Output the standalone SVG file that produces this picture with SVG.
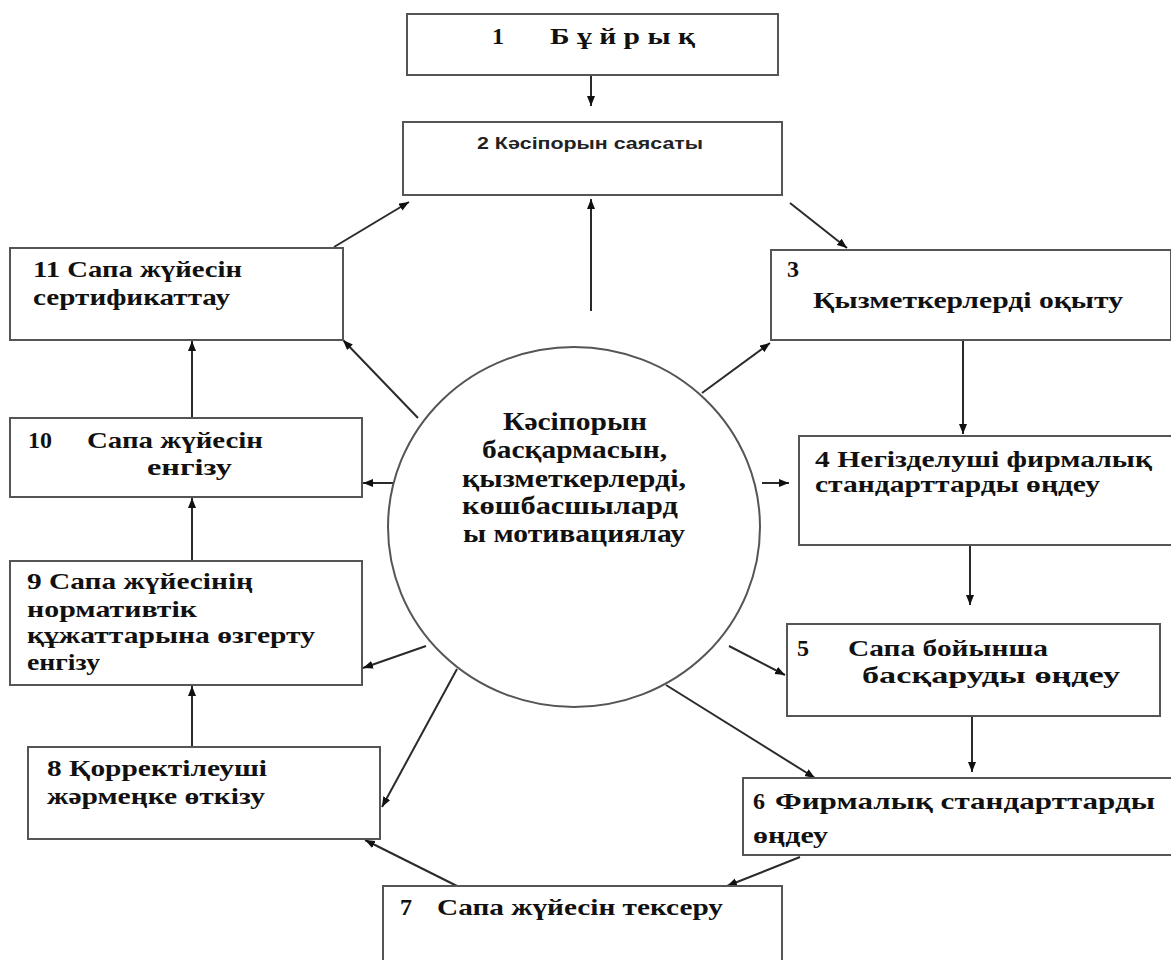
<svg xmlns="http://www.w3.org/2000/svg" width="1171" height="960" viewBox="0 0 1171 960">
<defs>
<style>
.box{fill:#fff;stroke:#555;stroke-width:2}
.t{font-family:"Liberation Serif","Times New Roman",serif;font-weight:bold;font-size:24px;fill:#111}
.s{font-family:"Liberation Sans",Arial,sans-serif;font-weight:bold;font-size:16px;fill:#222}
.c{font-family:"Liberation Serif","Times New Roman",serif;font-weight:bold;font-size:25px;fill:#111}
.ln{stroke:#2a2a2a;stroke-width:2;fill:none;marker-end:url(#ah)}
</style>
<marker id="ah" markerUnits="userSpaceOnUse" markerWidth="12" markerHeight="10" refX="10" refY="4" orient="auto">
<path d="M0,0 L10,4 L0,8 z" fill="#111"/>
</marker>
</defs>
<rect width="1171" height="960" fill="#fff"/>

<g id="connectors">
<line class="ln" x1="591" y1="75" x2="591" y2="106"/>
<line class="ln" x1="591" y1="311" x2="591" y2="199"/>
<line class="ln" x1="334" y1="247" x2="409" y2="202"/>
<line class="ln" x1="790" y1="203" x2="847" y2="248"/>
<line class="ln" x1="702" y1="393" x2="770" y2="343"/>
<line class="ln" x1="963" y1="340" x2="963" y2="434"/>
<line class="ln" x1="762" y1="483" x2="789" y2="483"/>
<line class="ln" x1="970" y1="545" x2="970" y2="605"/>
<line class="ln" x1="729" y1="646" x2="785" y2="675"/>
<line class="ln" x1="972" y1="716" x2="972" y2="772"/>
<line class="ln" x1="666" y1="685" x2="815" y2="778"/>
<line class="ln" x1="800" y1="857" x2="727" y2="886"/>
<line class="ln" x1="457" y1="886" x2="365" y2="840"/>
<line class="ln" x1="457" y1="669" x2="382" y2="807"/>
<line class="ln" x1="192" y1="747" x2="192" y2="686"/>
<line class="ln" x1="426" y1="646" x2="363" y2="668"/>
<line class="ln" x1="192" y1="561" x2="192" y2="498"/>
<line class="ln" x1="393" y1="483" x2="363" y2="483"/>
<line class="ln" x1="192" y1="418" x2="192" y2="341"/>
<line class="ln" x1="418" y1="418" x2="343" y2="340"/>
</g>

<g id="node1">
<rect class="box" x="407" y="14" width="371" height="61"/>
<text class="t" y="44" font-size="22"><tspan x="492">1</tspan><tspan x="550" textLength="145" lengthAdjust="spacingAndGlyphs">Б ұ й р ы қ</tspan></text>
</g>
<g id="node2">
<rect class="box" x="403" y="122" width="379" height="73"/>
<text class="s" x="477" y="149" textLength="226" lengthAdjust="spacingAndGlyphs">2 Кәсіпорын саясаты</text>
</g>
<g id="node3">
<rect class="box" x="771" y="250" width="400" height="90"/>
<text class="t" x="787" y="277">3</text>
<text class="t" x="813" y="308" textLength="310" lengthAdjust="spacingAndGlyphs">Қызметкерлерді оқыту</text>
</g>
<g id="node4">
<rect class="box" x="799" y="436" width="380" height="109"/>
<text class="t" x="815" y="467" textLength="337" lengthAdjust="spacingAndGlyphs">4 Негізделуші фирмалық</text>
<text class="t" x="815" y="492" textLength="285" lengthAdjust="spacingAndGlyphs">стандарттарды өңдеу</text>
</g>
<g id="node5">
<rect class="box" x="787" y="624" width="373" height="92"/>
<text class="t" x="797" y="656">5</text>
<text class="t" x="848" y="656" textLength="200" lengthAdjust="spacingAndGlyphs">Сапа бойынша</text>
<text class="t" x="862" y="683" textLength="258" lengthAdjust="spacingAndGlyphs">басқаруды өңдеу</text>
</g>
<g id="node6">
<rect class="box" x="743" y="778" width="436" height="77"/>
<text class="t" x="753" y="809">6</text>
<text class="t" x="775" y="809" textLength="380" lengthAdjust="spacingAndGlyphs">Фирмалық стандарттарды</text>
<text class="t" x="753" y="843" textLength="75" lengthAdjust="spacingAndGlyphs">өңдеу</text>
</g>
<g id="node7">
<rect class="box" x="383" y="886" width="399" height="80"/>
<text class="t" x="400" y="915" font-weight="normal" fill="#555">7</text>
<text class="t" x="437" y="915" textLength="286" lengthAdjust="spacingAndGlyphs">Сапа жүйесін тексеру</text>
</g>
<g id="node8">
<rect class="box" x="28" y="747" width="352" height="92"/>
<text class="t" x="47" y="776" textLength="220" lengthAdjust="spacingAndGlyphs">8 Қорректілеуші</text>
<text class="t" x="47" y="804" textLength="218" lengthAdjust="spacingAndGlyphs">жәрмеңке өткізу</text>
</g>
<g id="node9">
<rect class="box" x="10" y="561" width="352" height="124"/>
<text class="t" x="27" y="589" textLength="226" lengthAdjust="spacingAndGlyphs">9 Сапа жүйесінің</text>
<text class="t" x="27" y="617" textLength="170" lengthAdjust="spacingAndGlyphs">нормативтік</text>
<text class="t" x="27" y="643" textLength="288" lengthAdjust="spacingAndGlyphs">құжаттарына өзгерту</text>
<text class="t" x="27" y="670" textLength="73" lengthAdjust="spacingAndGlyphs">енгізу</text>
</g>
<g id="node10">
<rect class="box" x="10" y="418" width="352" height="79"/>
<text class="t" x="28" y="448">10</text>
<text class="t" x="87" y="448" textLength="176" lengthAdjust="spacingAndGlyphs">Сапа жүйесін</text>
<text class="t" x="147" y="475" textLength="85" lengthAdjust="spacingAndGlyphs">енгізу</text>
</g>
<g id="node11">
<rect class="box" x="10" y="248" width="333" height="92"/>
<text class="t" x="33" y="277" textLength="209" lengthAdjust="spacingAndGlyphs">11 Сапа жүйесін</text>
<text class="t" x="33" y="305" textLength="197" lengthAdjust="spacingAndGlyphs">сертификаттау</text>
</g>
<g id="center">
<ellipse cx="574" cy="527" rx="186" ry="180" fill="#fff" stroke="#555" stroke-width="2"/>
<text class="c" x="503" y="430" textLength="144" lengthAdjust="spacingAndGlyphs">Кәсіпорын</text>
<text class="c" x="482" y="458" textLength="185" lengthAdjust="spacingAndGlyphs">басқармасын,</text>
<text class="c" x="462" y="487" textLength="224" lengthAdjust="spacingAndGlyphs">қызметкерлерді,</text>
<text class="c" x="462" y="514" textLength="216" lengthAdjust="spacingAndGlyphs">көшбасшылард</text>
<text class="c" x="463" y="542" textLength="222" lengthAdjust="spacingAndGlyphs">ы мотивациялау</text>
</g>
</svg>
